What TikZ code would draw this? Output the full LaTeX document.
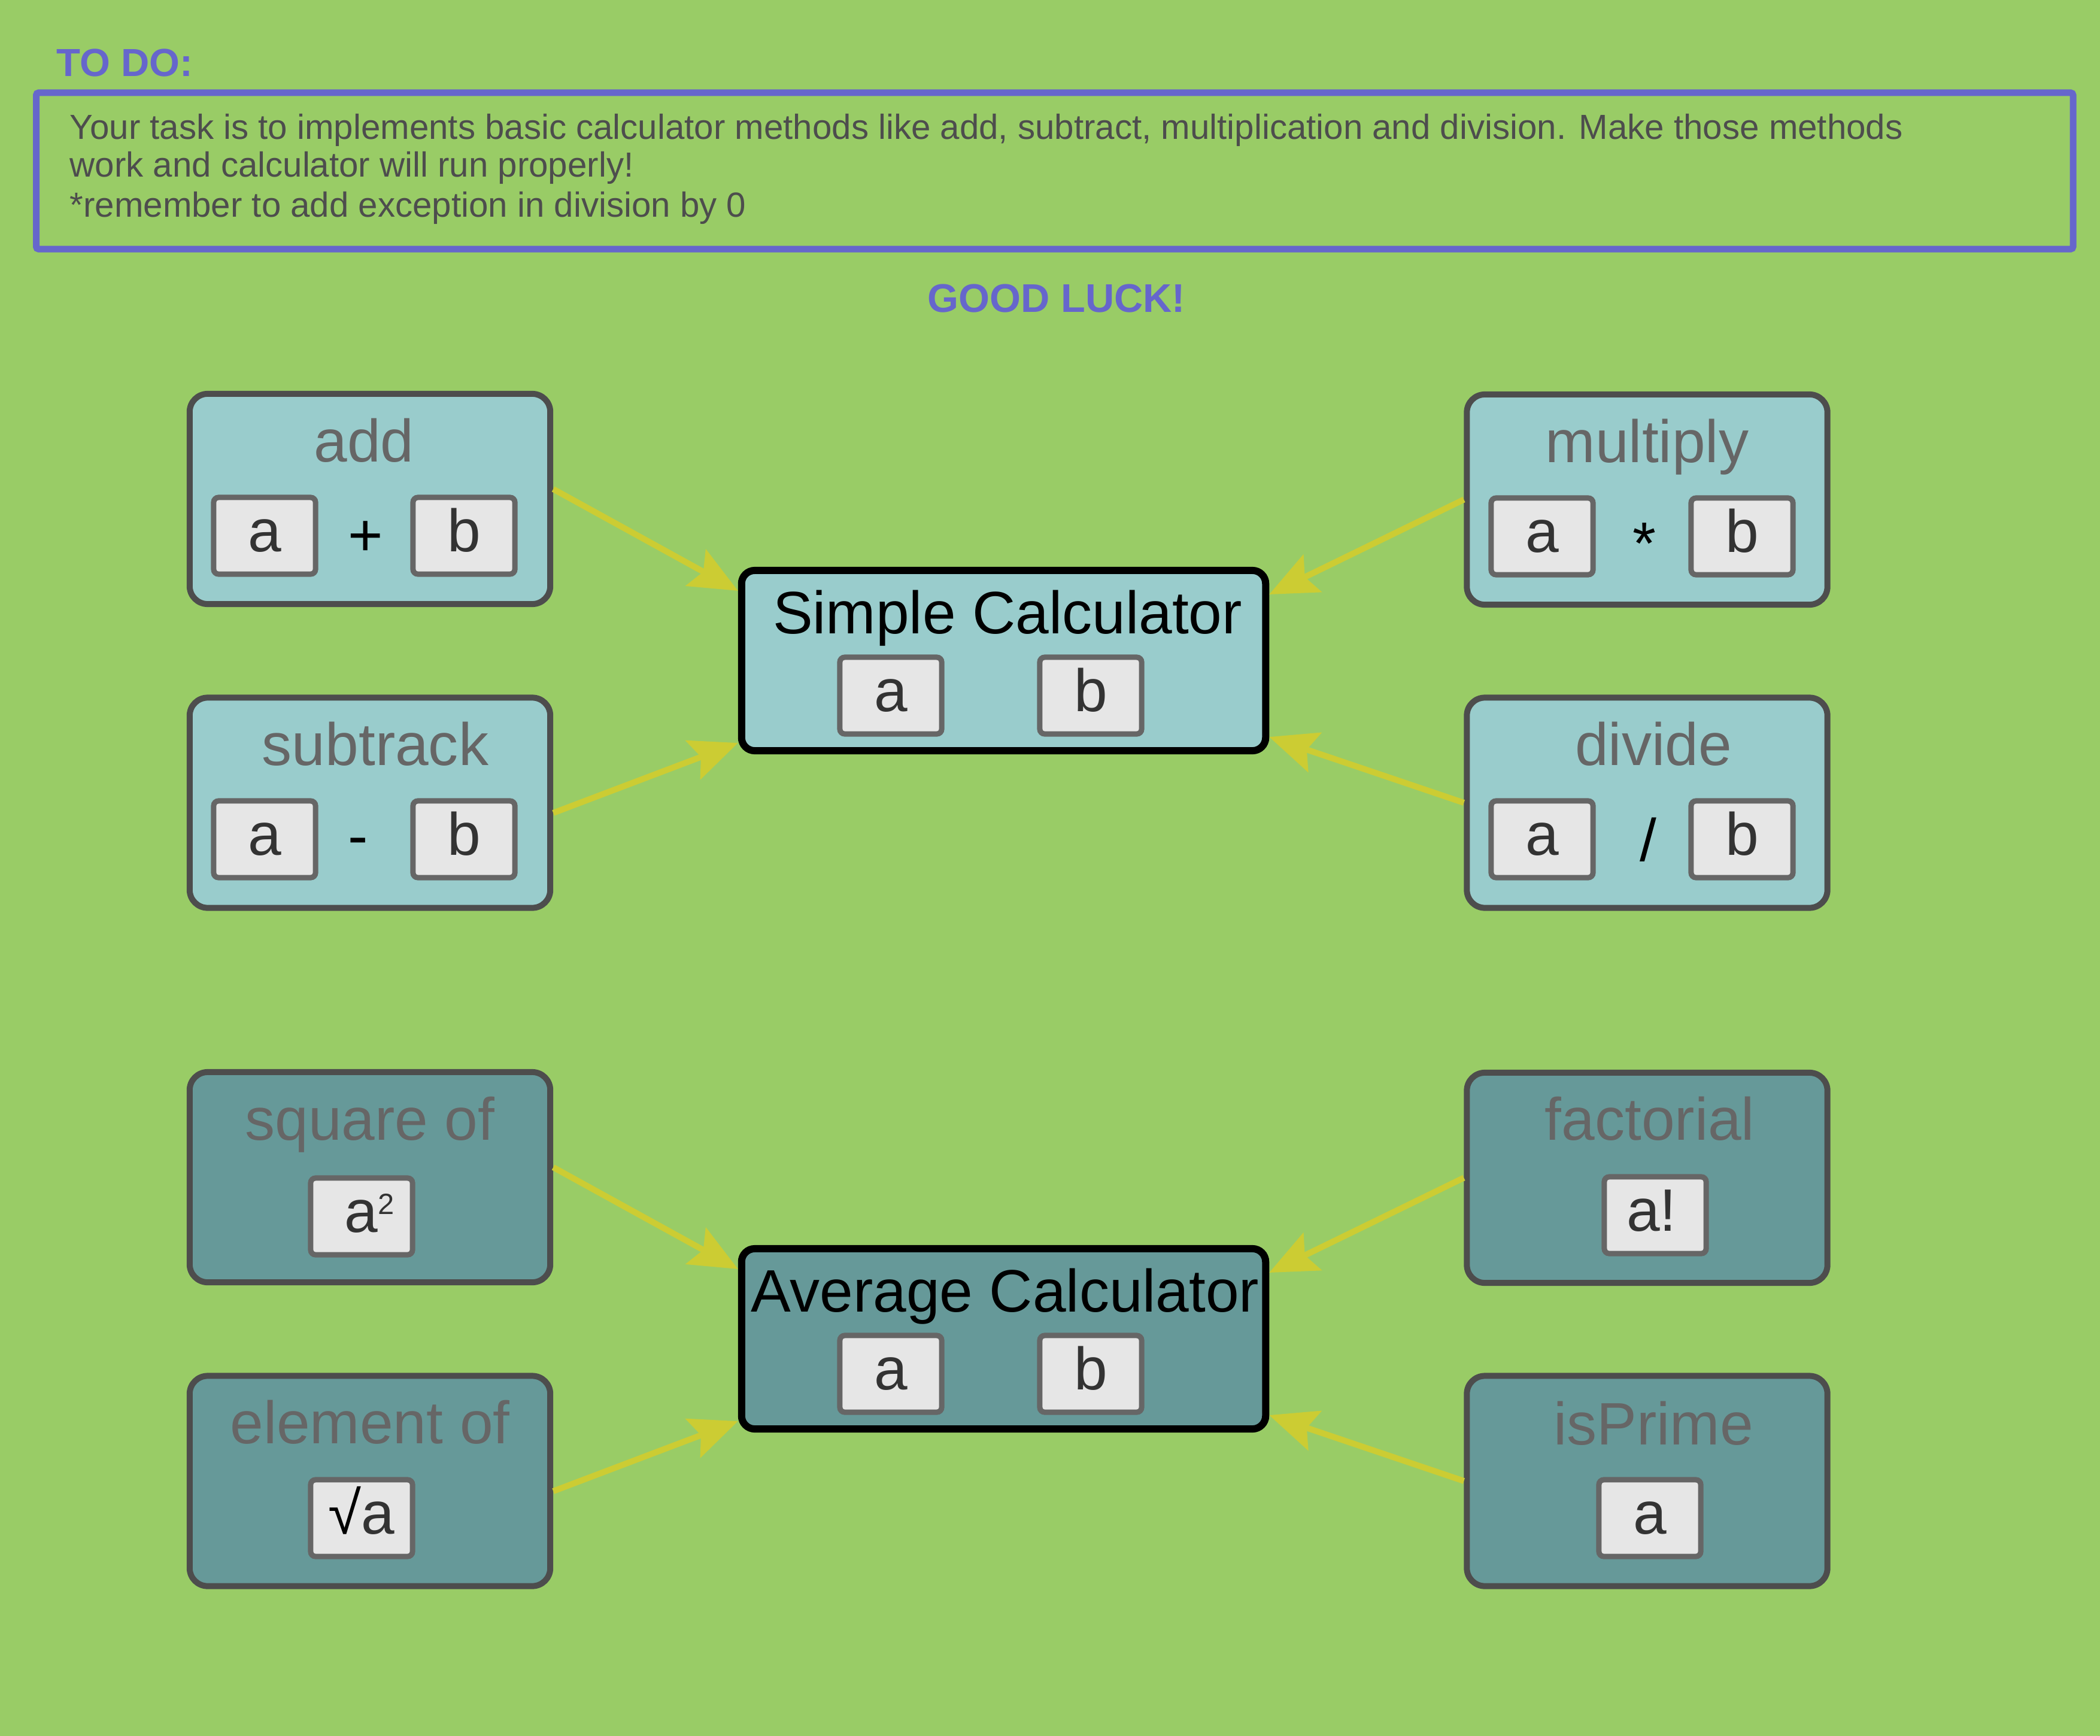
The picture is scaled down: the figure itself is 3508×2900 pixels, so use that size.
\documentclass[tikz,border=0pt]{standalone}
\usepackage{fontspec}
\setmainfont{Liberation Sans}
\usetikzlibrary{arrows.meta}
\definecolor{bg}{HTML}{99CC66}
\definecolor{lightteal}{HTML}{99CCCC}
\definecolor{darkteal}{HTML}{669999}
\definecolor{boxline}{HTML}{4D4D4D}
\definecolor{cellline}{HTML}{666666}
\definecolor{cellfill}{HTML}{E6E6E6}
\definecolor{celltext}{HTML}{333333}
\definecolor{titletext}{HTML}{666666}
\definecolor{arrowcol}{HTML}{CCCC33}
\definecolor{bluecol}{HTML}{6666CC}
\definecolor{notetext}{HTML}{4D4D4D}
\begin{document}
\begin{tikzpicture}[x=0.01cm, y=-0.01cm,
  bigfont/.style={font=\fontsize{28.45pt}{34pt}\selectfont},
  notefont/.style={font=\fontsize{16.56pt}{19pt}\selectfont, text=notetext, anchor=base west, inner sep=0pt},
  headfont/.style={font=\fontsize{18.6pt}{22pt}\selectfont\bfseries, text=bluecol, inner sep=0pt},
  method/.style={draw=boxline, line width=0.1cm, rounded corners=0.3cm, minimum width=6.02cm, minimum height=3.51cm, inner sep=0pt},
  lightbox/.style={method, fill=lightteal},
  darkbox/.style={method, fill=darkteal},
  calc/.style={draw=black, line width=0.12cm, rounded corners=0.22cm, minimum width=8.75cm, minimum height=3.01cm, inner sep=0pt},
  cell/.style={draw=cellline, fill=cellfill, line width=0.09cm, rounded corners=0.08cm, minimum width=1.70cm, minimum height=1.28cm, inner sep=0pt, bigfont, text=celltext, text height=0.52cm, text depth=0pt},
  title/.style={bigfont, text=titletext, anchor=base, inner sep=0pt},
  calctitle/.style={bigfont, text=black, anchor=base, inner sep=0pt},
  op/.style={bigfont, text=black, anchor=base, inner sep=0pt},
  link/.style={draw=arrowcol, line width=0.1cm, -{Stealth[length=0.8cm, width=0.69cm, inset=0.14cm]}},
]
\fill[bg] (0,0) rectangle (3508,2900);
\useasboundingbox (0,0) rectangle (3508,2900);

% header
\node[headfont, anchor=base west] (todo) at (94,128) {TO DO:};
\node[draw=bluecol, line width=0.11cm, rounded corners=0.04cm, minimum width=34.005cm, minimum height=2.61cm, inner sep=0pt] (todobox) at (1761.75,285.5) {};
\node[notefont] (line1) at (116,232) {Your task is to implements basic calculator methods like add, subtract, multiplication and division. Make those methods};
\node[notefont] (line2) at (116,296) {work and calculator will run properly!};
\node[notefont] (line3) at (116,362) {*remember to add exception in division by 0};
\node[headfont, font=\fontsize{19pt}{22pt}\selectfont\bfseries, anchor=base] (luck) at (1765,521) {GOOD LUCK!};

% ---------- Simple calculator ----------
\node[calc, fill=lightteal] (sc) at (1676.5,1103.5) {};
\node[calctitle] (scT) at (1683,1058) {Simple Calculator};
\node[cell] (scA) at (1488,1162) {a};
\node[cell] (scB) at (1822,1162) {b};

\node[lightbox] (add) at (618,833.5) {};
\node[title] (addT) at (608,771) {add};
\node[cell] (addA) at (442,895) {a};
\node[op] (addOp) at (611,928) {+};
\node[cell] (addB) at (775,895) {b};

\node[lightbox] (sub) at (618,1341) {};
\node[title] (subT) at (627,1278) {subtrack};
\node[cell] (subA) at (442,1402) {a};
\node[op] (subOp) at (598,1430) {-};
\node[cell] (subB) at (775,1402) {b};

\node[lightbox] (mul) at (2751.5,834.5) {};
\node[title] (mulT) at (2751.5,772) {multiply};
\node[cell] (mulA) at (2576,896) {a};
\node[op] (mulOp) at (2747,942) {*};
\node[cell] (mulB) at (2910,896) {b};

\node[lightbox] (div) at (2751.5,1341) {};
\node[title] (divT) at (2762,1278) {divide};
\node[cell] (divA) at (2576,1402) {a};
\node[op] (divOp) at (2753,1438) {/};
\node[cell] (divB) at (2910,1402) {b};

\draw[link] ([yshift=0.165cm]add.east) -- ([yshift=-0.40cm]sc.north west);
\draw[link] ([yshift=-0.17cm]sub.east) -- ([yshift=0.19cm]sc.south west);
\draw[link] (mul.west) -- ([yshift=-0.46cm]sc.north east);
\draw[link] (div.west) -- ([yshift=0.29cm]sc.south east);

% ---------- Average calculator ----------
\node[calc, fill=darkteal] (ac) at (1676.5,2236.5) {};
\node[calctitle] (acT) at (1679,2191) {Average Calculator};
\node[cell] (acA) at (1488,2295) {a};
\node[cell] (acB) at (1822,2295) {b};

\node[darkbox] (sq) at (618,1966.5) {};
\node[title] (sqT) at (618,1904) {square of};
\node[cell] (sqA) at (604,2032) {\hspace*{0.26cm}a\raisebox{0.3cm}{\fontsize{13.9pt}{14pt}\selectfont 2}};

\node[darkbox] (el) at (618,2474) {};
\node[title] (elT) at (618,2411) {element of};
\node[cell] (elA) at (604,2536) {{\color{black}√}a};

\node[darkbox] (fac) at (2751.5,1967.5) {};
\node[title] (facT) at (2756,1904) {factorial};
\node[cell] (facA) at (2765,2030) {a!\hspace*{0.12cm}};

\node[darkbox] (prime) at (2751.5,2474) {};
\node[title] (primeT) at (2762,2413) {isPrime};
\node[cell] (primeA) at (2756,2536) {a};

\draw[link] ([yshift=0.165cm]sq.east) -- ([yshift=-0.40cm]ac.north west);
\draw[link] ([yshift=-0.17cm]el.east) -- ([yshift=0.19cm]ac.south west);
\draw[link] (fac.west) -- ([yshift=-0.46cm]ac.north east);
\draw[link] (prime.west) -- ([yshift=0.29cm]ac.south east);
\end{tikzpicture}
\end{document}
